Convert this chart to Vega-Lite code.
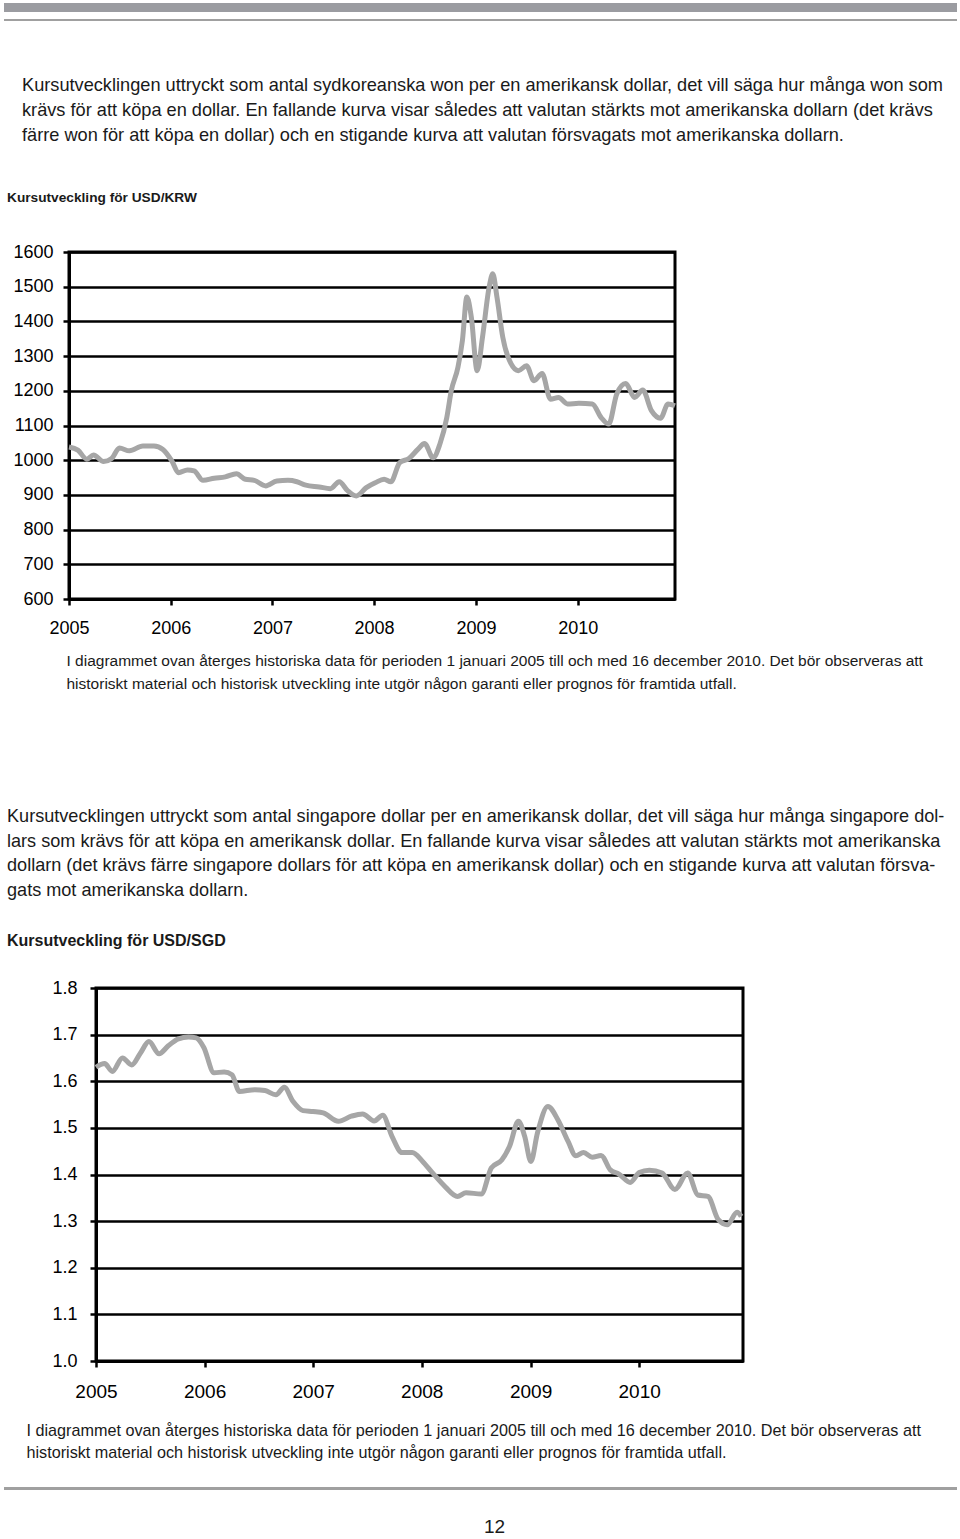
{
  "$schema": "https://vega.github.io/schema/vega-lite/v6.json",
  "padding": {"left": 4, "top": 3, "right": 2, "bottom": 2},
  "background": "white",
  "config": {
    "font": "Liberation Sans",
    "view": {"stroke": "black", "strokeWidth": 3},
    "title": {"color": "#1a1a1a", "font": "Liberation Sans"},
    "axis": {"labelFont": "Liberation Sans", "titleFont": "Liberation Sans", "labelColor": "black", "titleColor": "#1a1a1a"}
  },
  "datasets": {
    "krw": [
      {"date": "2005/01/01", "value": 1038}, {"date": "2005/02/02", "value": 1029}, {"date": "2005/03/06", "value": 1003},
      {"date": "2005/03/30", "value": 1015}, {"date": "2005/05/05", "value": 996}, {"date": "2005/06/03", "value": 1005},
      {"date": "2005/07/01", "value": 1035}, {"date": "2005/08/06", "value": 1027}, {"date": "2005/09/23", "value": 1041},
      {"date": "2005/11/02", "value": 1041}, {"date": "2005/12/04", "value": 1031}, {"date": "2006/01/05", "value": 998},
      {"date": "2006/01/29", "value": 964}, {"date": "2006/03/02", "value": 972}, {"date": "2006/03/26", "value": 969},
      {"date": "2006/04/27", "value": 942}, {"date": "2006/06/06", "value": 948}, {"date": "2006/07/16", "value": 952},
      {"date": "2006/08/25", "value": 961}, {"date": "2006/09/26", "value": 945}, {"date": "2006/10/28", "value": 942},
      {"date": "2006/12/08", "value": 926}, {"date": "2007/01/17", "value": 940}, {"date": "2007/02/26", "value": 942},
      {"date": "2007/03/30", "value": 938}, {"date": "2007/05/01", "value": 928}, {"date": "2007/06/18", "value": 923},
      {"date": "2007/07/28", "value": 918}, {"date": "2007/08/29", "value": 938}, {"date": "2007/09/27", "value": 913},
      {"date": "2007/10/29", "value": 897}, {"date": "2007/12/04", "value": 921}, {"date": "2008/01/05", "value": 935},
      {"date": "2008/02/06", "value": 945}, {"date": "2008/03/01", "value": 938}, {"date": "2008/04/02", "value": 993},
      {"date": "2008/05/05", "value": 1005}, {"date": "2008/06/06", "value": 1031}, {"date": "2008/06/30", "value": 1048},
      {"date": "2008/07/31", "value": 1007}, {"date": "2008/08/24", "value": 1046}, {"date": "2008/09/18", "value": 1123},
      {"date": "2008/10/04", "value": 1200}, {"date": "2008/10/28", "value": 1268}, {"date": "2008/11/13", "value": 1345},
      {"date": "2008/11/29", "value": 1470}, {"date": "2008/12/15", "value": 1412}, {"date": "2009/01/05", "value": 1258},
      {"date": "2009/01/24", "value": 1354}, {"date": "2009/02/17", "value": 1499}, {"date": "2009/03/02", "value": 1537},
      {"date": "2009/03/17", "value": 1470}, {"date": "2009/04/07", "value": 1354}, {"date": "2009/05/01", "value": 1287},
      {"date": "2009/06/02", "value": 1258}, {"date": "2009/07/01", "value": 1272}, {"date": "2009/07/28", "value": 1229},
      {"date": "2009/08/26", "value": 1250}, {"date": "2009/09/25", "value": 1176}, {"date": "2009/10/24", "value": 1181},
      {"date": "2009/11/25", "value": 1162}, {"date": "2010/01/05", "value": 1164}, {"date": "2010/02/22", "value": 1162},
      {"date": "2010/03/26", "value": 1123}, {"date": "2010/04/22", "value": 1104}, {"date": "2010/05/21", "value": 1191},
      {"date": "2010/06/22", "value": 1221}, {"date": "2010/07/24", "value": 1181}, {"date": "2010/08/22", "value": 1202},
      {"date": "2010/09/23", "value": 1142}, {"date": "2010/10/25", "value": 1121}, {"date": "2010/11/21", "value": 1162},
      {"date": "2010/12/16", "value": 1157}
    ],
    "sgd": [
      {"date": "2005/01/01", "value": 1.630}, {"date": "2005/01/30", "value": 1.638}, {"date": "2005/02/25", "value": 1.621},
      {"date": "2005/03/31", "value": 1.650}, {"date": "2005/05/01", "value": 1.635}, {"date": "2005/05/30", "value": 1.660},
      {"date": "2005/06/28", "value": 1.685}, {"date": "2005/08/01", "value": 1.659}, {"date": "2005/09/01", "value": 1.676},
      {"date": "2005/10/05", "value": 1.691}, {"date": "2005/11/08", "value": 1.695}, {"date": "2005/12/04", "value": 1.693},
      {"date": "2005/12/29", "value": 1.673}, {"date": "2006/02/02", "value": 1.618}, {"date": "2006/03/08", "value": 1.620},
      {"date": "2006/04/03", "value": 1.614}, {"date": "2006/04/28", "value": 1.578}, {"date": "2006/06/19", "value": 1.582},
      {"date": "2006/07/23", "value": 1.580}, {"date": "2006/08/29", "value": 1.571}, {"date": "2006/09/26", "value": 1.587},
      {"date": "2006/10/25", "value": 1.557}, {"date": "2006/11/28", "value": 1.537}, {"date": "2007/01/01", "value": 1.535},
      {"date": "2007/02/04", "value": 1.532}, {"date": "2007/03/27", "value": 1.514}, {"date": "2007/05/09", "value": 1.525},
      {"date": "2007/06/16", "value": 1.530}, {"date": "2007/07/25", "value": 1.515}, {"date": "2007/08/23", "value": 1.527},
      {"date": "2007/09/23", "value": 1.482}, {"date": "2007/10/27", "value": 1.447}, {"date": "2007/11/30", "value": 1.447},
      {"date": "2008/01/04", "value": 1.428}, {"date": "2008/02/07", "value": 1.403}, {"date": "2008/03/21", "value": 1.373},
      {"date": "2008/04/30", "value": 1.353}, {"date": "2008/05/29", "value": 1.361}, {"date": "2008/07/19", "value": 1.358},
      {"date": "2008/08/22", "value": 1.414}, {"date": "2008/09/26", "value": 1.431}, {"date": "2008/10/22", "value": 1.460},
      {"date": "2008/11/21", "value": 1.514}, {"date": "2008/12/12", "value": 1.482}, {"date": "2009/01/02", "value": 1.428},
      {"date": "2009/01/24", "value": 1.489}, {"date": "2009/02/28", "value": 1.546}, {"date": "2009/04/03", "value": 1.517},
      {"date": "2009/05/07", "value": 1.471}, {"date": "2009/06/02", "value": 1.440}, {"date": "2009/06/28", "value": 1.447},
      {"date": "2009/07/27", "value": 1.437}, {"date": "2009/08/26", "value": 1.441}, {"date": "2009/09/26", "value": 1.410},
      {"date": "2009/10/25", "value": 1.401}, {"date": "2009/12/02", "value": 1.383}, {"date": "2010/01/01", "value": 1.404},
      {"date": "2010/02/04", "value": 1.409}, {"date": "2010/03/19", "value": 1.403}, {"date": "2010/05/01", "value": 1.368},
      {"date": "2010/06/13", "value": 1.403}, {"date": "2010/07/17", "value": 1.356}, {"date": "2010/08/20", "value": 1.353},
      {"date": "2010/09/24", "value": 1.303}, {"date": "2010/10/24", "value": 1.292}, {"date": "2010/11/26", "value": 1.319},
      {"date": "2010/12/10", "value": 1.310}
    ]
  },
  "vconcat": [
    {
      "width": 953, "height": 9,
      "data": {"values": []},
      "mark": {"type": "rule"},
      "encoding": {},
      "view": {"fill": "#9b9ca1", "stroke": null}
    },
    {
      "vconcat": [
        {
          "width": 953, "height": 2,
          "data": {"values": []},
          "mark": {"type": "rule"},
          "encoding": {},
          "view": {"fill": "#a0a0a0", "stroke": null}
        },
        {
          "vconcat": [
            {
              "title": {
                "text": [
                  "Kursutvecklingen uttryckt som antal sydkoreanska won per en amerikansk dollar, det vill säga hur många won som",
                  "krävs för att köpa en dollar. En fallande kurva visar således att valutan stärkts mot amerikanska dollarn (det krävs",
                  "färre won för att köpa en dollar) och en stigande kurva att valutan försvagats mot amerikanska dollarn."
                ],
                "anchor": "start", "frame": "group", "dx": 18,
                "fontSize": 18.2, "fontWeight": "normal", "lineHeight": 25, "offset": 45
              },
              "hconcat": [
                {
                  "width": 1, "height": 1,
                  "data": {"values": []},
                  "mark": {"type": "rule"},
                  "encoding": {},
                  "view": {"fill": null, "stroke": null}
                },
                {
                  "width": 606, "height": 347,
                  "data": {"name": "krw"},
                  "title": {
                    "text": "Kursutveckling för USD/KRW",
                    "anchor": "start", "frame": "group", "dx": -62,
                    "fontSize": 13.7, "fontWeight": "bold", "offset": 38
                  },
                  "mark": {"type": "line", "interpolate": "monotone", "color": "#a6a6a6", "strokeWidth": 5},
                  "encoding": {
                    "x": {
                      "field": "date", "type": "temporal",
                      "scale": {"domain": [{"year": 2005, "month": 1, "date": 1}, {"year": 2010, "month": 12, "date": 16}], "nice": false},
                      "axis": {
                        "format": "%Y", "tickCount": {"interval": "year", "step": 1},
                        "grid": false, "domainColor": "black", "domainWidth": 3,
                        "tickColor": "black", "tickWidth": 2.5, "tickSize": 6,
                        "labelFontSize": 18, "labelPadding": 14, "labelFlush": false, "labelOverlap": false,
                        "title": [
                          "I diagrammet ovan återges historiska data för perioden 1 januari 2005 till och med 16 december 2010. Det bör observeras att",
                          "historiskt material och historisk utveckling inte utgör någon garanti eller prognos för framtida utfall."
                        ],
                        "titleAnchor": "start", "titleAlign": "left", "titleBaseline": "top",
                        "titleX": -3, "titleY": 54, "titleFontSize": 15.5, "titleFontWeight": "normal", "titleLineHeight": 23
                      }
                    },
                    "y": {
                      "field": "value", "type": "quantitative",
                      "scale": {"domain": [600, 1600], "nice": false, "zero": false},
                      "axis": {
                        "values": [600, 700, 800, 900, 1000, 1100, 1200, 1300, 1400, 1500, 1600], "format": "d",
                        "title": null, "grid": true, "gridColor": "black", "gridWidth": 2.5, "gridOpacity": 1,
                        "domainColor": "black", "domainWidth": 3, "tickColor": "black", "tickWidth": 2.5, "tickSize": 6,
                        "labelFontSize": 18, "labelPadding": 10
                      }
                    }
                  }
                }
              ],
              "spacing": 0
            },
            {
              "vconcat": [
                {
                  "hconcat": [
                    {
                      "width": 1, "height": 1,
                      "data": {"values": []},
                      "mark": {"type": "rule"},
                      "encoding": {},
                      "view": {"fill": null, "stroke": null}
                    },
                    {
                      "width": 647, "height": 373,
                      "data": {"name": "sgd"},
                      "title": {
                        "text": [
                          "Kursutvecklingen uttryckt som antal singapore dollar per en amerikansk dollar, det vill säga hur många singapore dol-",
                          "lars som krävs för att köpa en amerikansk dollar. En fallande kurva visar således att valutan stärkts mot amerikanska",
                          "dollarn (det krävs färre singapore dollars för att köpa en amerikansk dollar) och en stigande kurva att valutan försva-",
                          "gats mot amerikanska dollarn."
                        ],
                        "subtitle": "Kursutveckling för USD/SGD",
                        "anchor": "start", "frame": "group", "dx": -89,
                        "fontSize": 18.1, "fontWeight": "normal", "lineHeight": 24.5,
                        "subtitleFontSize": 16, "subtitleFontWeight": "bold", "subtitleColor": "#1a1a1a", "subtitleFont": "Liberation Sans",
                        "subtitlePadding": 33, "offset": 30
                      },
                      "mark": {"type": "line", "interpolate": "monotone", "color": "#a6a6a6", "strokeWidth": 5},
                      "encoding": {
                        "x": {
                          "field": "date", "type": "temporal",
                          "scale": {"domain": [{"year": 2005, "month": 1, "date": 1}, {"year": 2010, "month": 12, "date": 16}], "nice": false},
                          "axis": {
                            "format": "%Y", "tickCount": {"interval": "year", "step": 1},
                            "grid": false, "domainColor": "black", "domainWidth": 3,
                            "tickColor": "black", "tickWidth": 2.5, "tickSize": 6,
                            "labelFontSize": 19, "labelPadding": 15, "labelFlush": false, "labelOverlap": false,
                            "title": [
                              "I diagrammet ovan återges historiska data för perioden 1 januari 2005 till och med 16 december 2010. Det bör observeras att",
                              "historiskt material och historisk utveckling inte utgör någon garanti eller prognos för framtida utfall."
                            ],
                            "titleAnchor": "start", "titleAlign": "left", "titleBaseline": "top",
                            "titleX": -70, "titleY": 61, "titleFontSize": 16.2, "titleFontWeight": "normal", "titleLineHeight": 22
                          }
                        },
                        "y": {
                          "field": "value", "type": "quantitative",
                          "scale": {"domain": [1.0, 1.8], "nice": false, "zero": false},
                          "axis": {
                            "values": [1.0, 1.1, 1.2, 1.3, 1.4, 1.5, 1.6, 1.7, 1.8], "format": ".1f",
                            "title": null, "grid": true, "gridColor": "black", "gridWidth": 2.5, "gridOpacity": 1,
                            "domainColor": "black", "domainWidth": 3, "tickColor": "black", "tickWidth": 2.5, "tickSize": 6,
                            "labelFontSize": 18, "labelPadding": 13
                          }
                        }
                      }
                    }
                  ],
                  "spacing": 0
                },
                {
                  "width": 953, "height": 3,
                  "data": {"values": []},
                  "mark": {"type": "rule"},
                  "encoding": {},
                  "view": {"fill": "#a0a0a0", "stroke": null},
                  "title": {"text": "12", "orient": "bottom", "anchor": "middle", "dx": 14, "offset": 28, "fontSize": 19, "fontWeight": "normal"}
                }
              ],
              "spacing": 25
            }
          ],
          "spacing": 113
        }
      ],
      "spacing": 54
    }
  ],
  "spacing": 7
}
